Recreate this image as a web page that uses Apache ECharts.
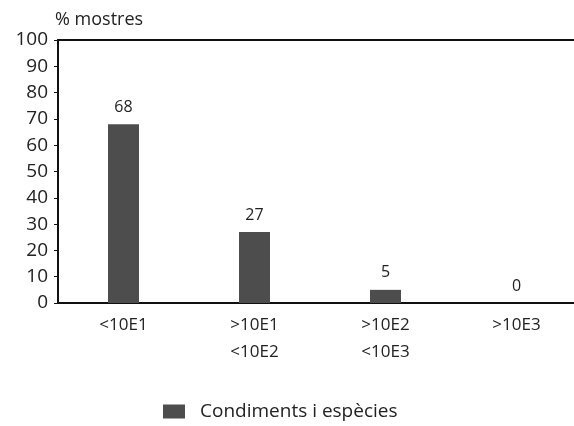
<!DOCTYPE html>
<html>
<head>
<meta charset="utf-8">
<script src="https://cdn.jsdelivr.net/npm/echarts@6/dist/echarts.min.js"></script>
<style>
  html, body { margin: 0; padding: 0; background: #fff; }
  #chart { width: 574px; height: 426px; }
</style>
</head>
<body>
<div id="chart"></div>
<script>
const categories = ['<10E1', '>10E1\n<10E2', '>10E2\n<10E3', '>10E3']
const seriesName = 'Condiments i espècies'
const values = [68, 27, 5, 0]
const yTicks = [0, 10, 20, 30, 40, 50, 60, 70, 80, 90, 100]

const fontFamily = '"Open Sans", "Noto Sans", sans-serif'
const barColor = '#4d4d4d'

const chart = echarts.init(document.getElementById('chart'))

chart.setOption({
  animation: false,
  textStyle: { fontFamily },
  grid: {
    left: 58,
    width: 524,
    top: 40,
    bottom: 123,
    outerBoundsMode: 'none',
  },
  legend: {
    top: 402,
    left: 163,
    padding: 0,
    itemWidth: 22,
    itemHeight: 14,
    textStyle: { fontSize: 19, color: '#222', fontFamily, padding: [0, 0, 0, 10] },
    data: [{ name: seriesName, icon: 'rect' }],
  },
  xAxis: [
    {
      type: 'category',
      data: categories,
      axisLine: { lineStyle: { color: '#111', width: 2 } },
      axisTick: { show: false },
      axisLabel: {
        fontSize: 17,
        color: '#222',
        margin: 9,
        lineHeight: 27,
      },
    },
    {
      type: 'category',
      position: 'top',
      data: categories,
      axisLine: { show: true, lineStyle: { color: '#111', width: 2 } },
      axisTick: { show: false },
      axisLabel: { show: false },
    },
  ],
  yAxis: {
    type: 'value',
    min: 0,
    max: yTicks[yTicks.length - 1],
    interval: 10,
    name: '% mostres',
    nameLocation: 'end',
    nameGap: 11,
    nameTextStyle: { fontSize: 18, color: '#222', align: 'left', padding: [0, 0, 0, -3] },
    axisLine: { show: true, lineStyle: { color: '#111', width: 2 } },
    axisTick: { show: true, length: 4, lineStyle: { color: '#111' } },
    axisLabel: {
      fontSize: 19,
      color: '#222',
      margin: 10,
      customValues: yTicks,
    },
    splitLine: { show: false },
  },
  series: [
    {
      name: seriesName,
      type: 'bar',
      data: values,
      barWidth: 31,
      itemStyle: { color: barColor },
      label: {
        show: true,
        position: 'top',
        distance: 9,
        fontSize: 16,
        color: '#222',
      },
    },
  ],
})
</script>
</body>
</html>
